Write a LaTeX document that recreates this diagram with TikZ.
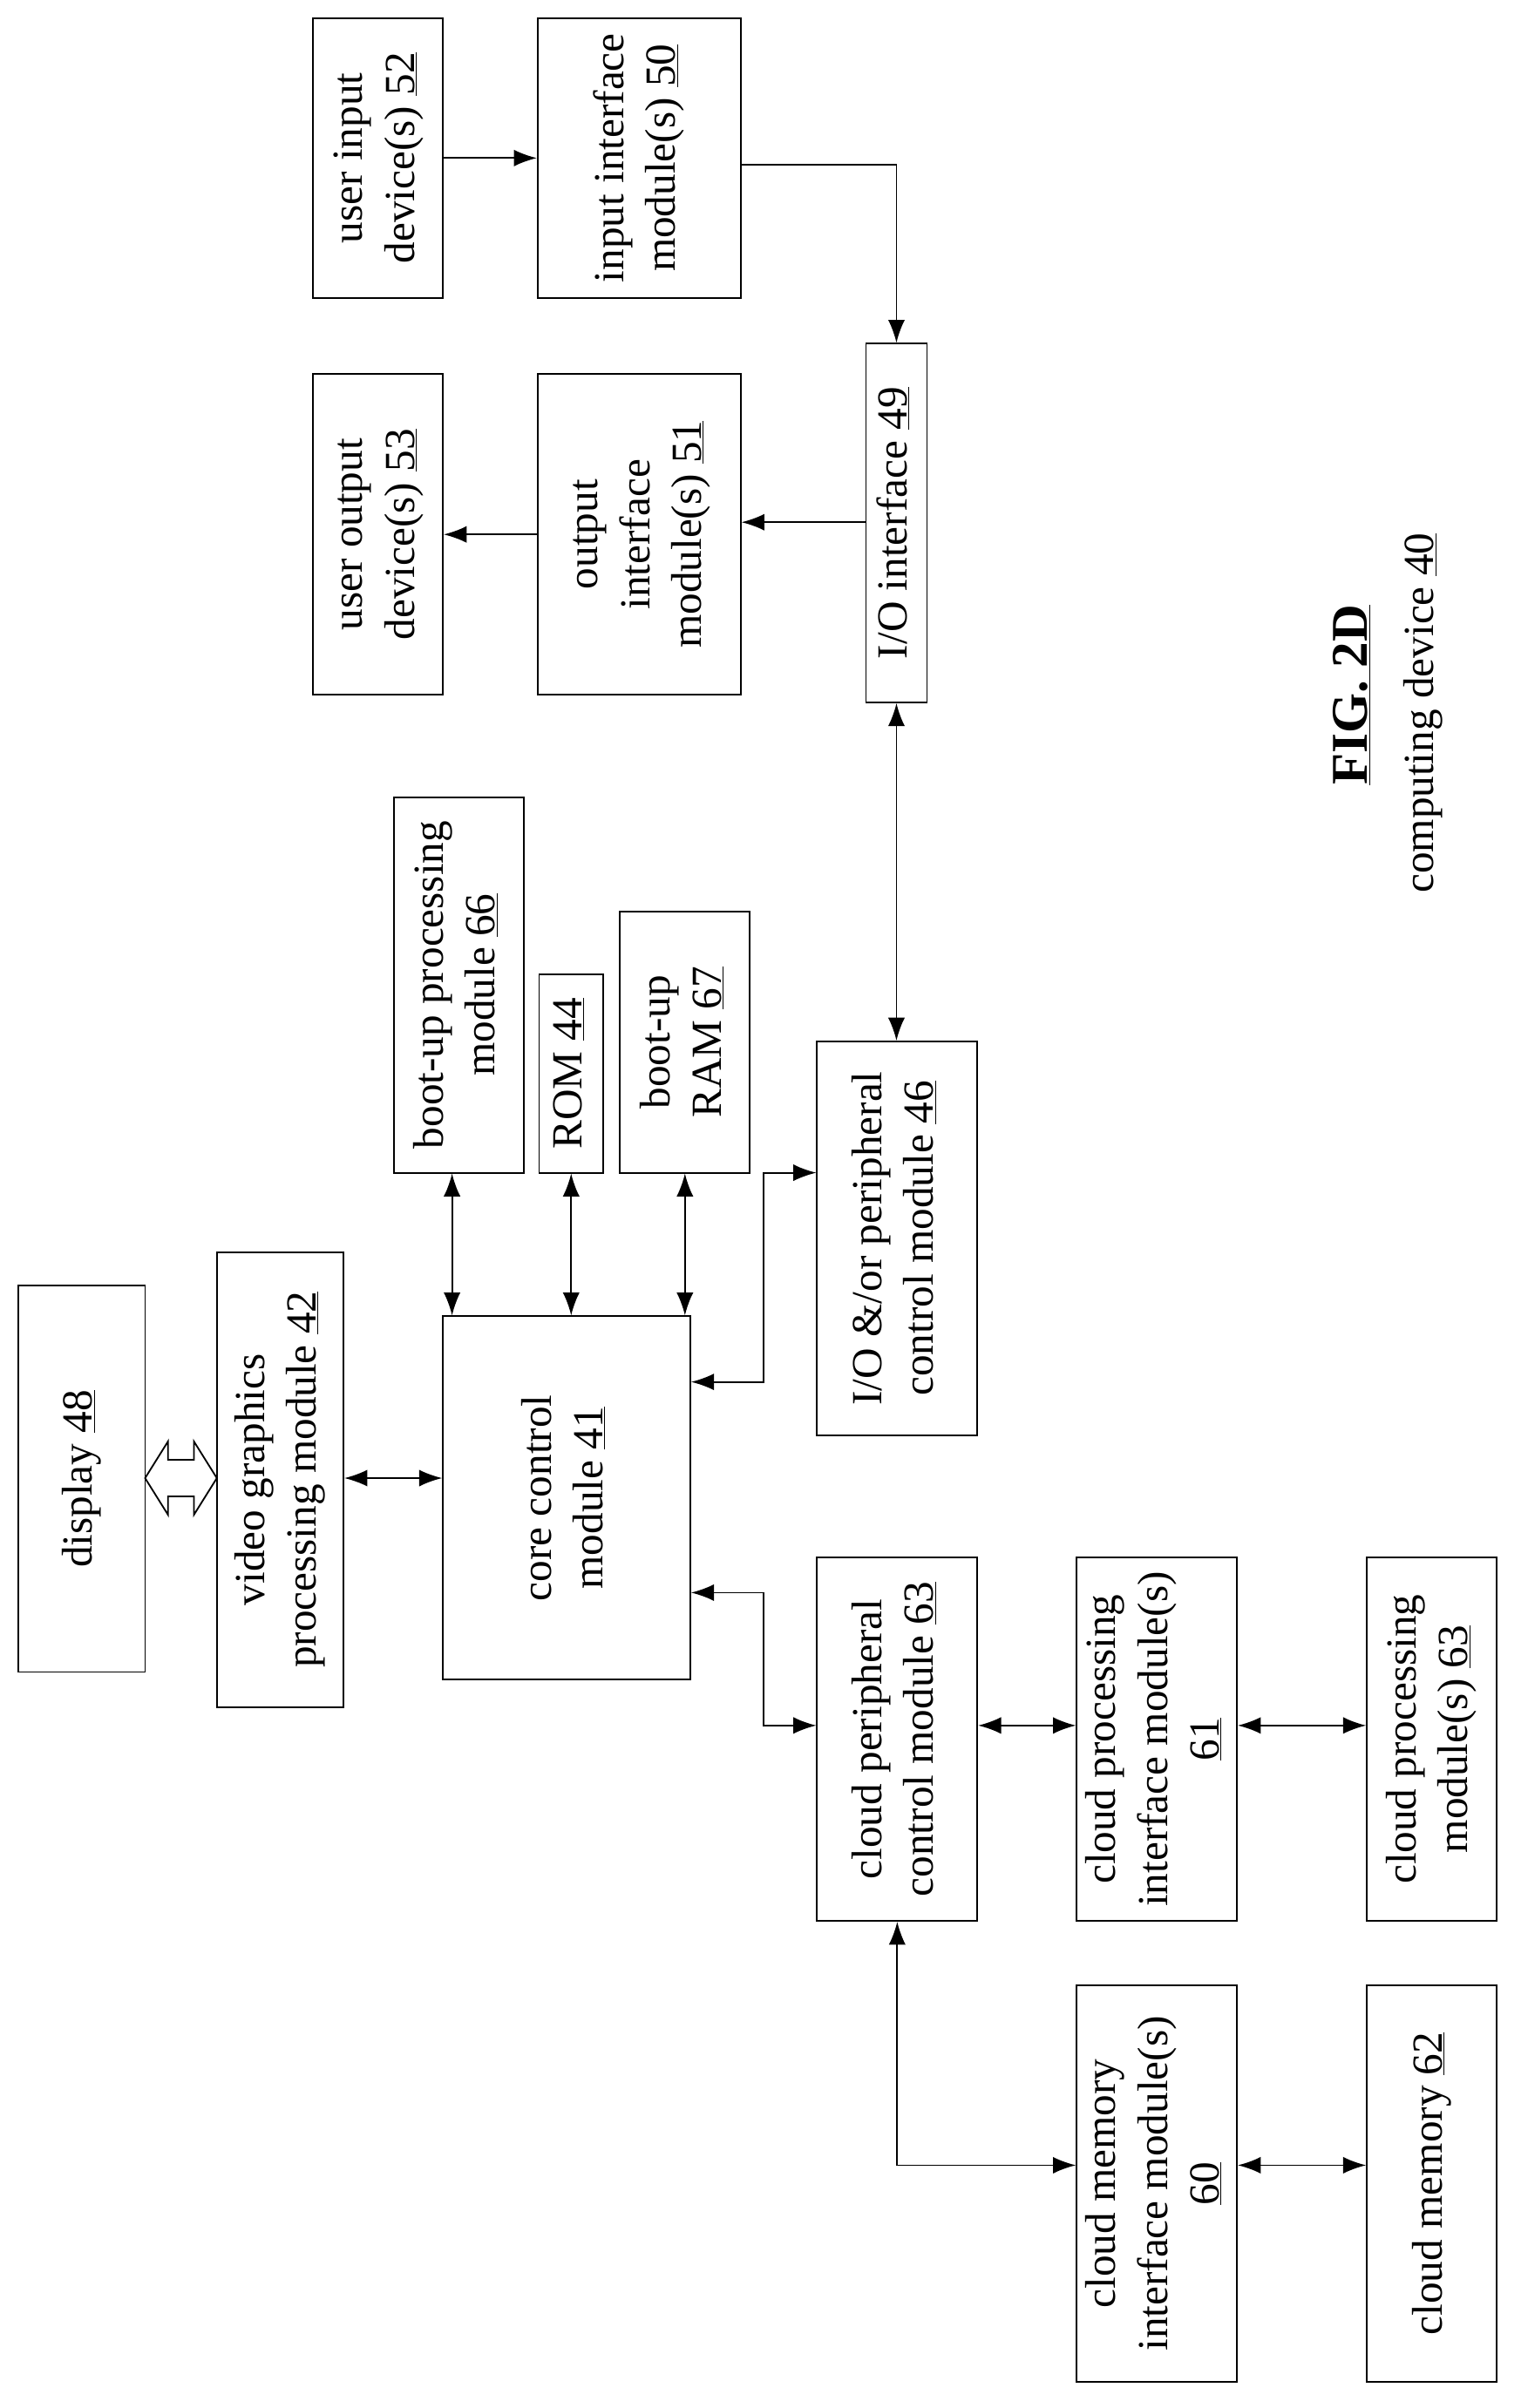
\documentclass[tikz,border=0pt]{standalone}
\usepackage{fontspec}
\setmainfont{Liberation Serif}
\usetikzlibrary{arrows.meta}
\newcommand{\vtxt}[1]{\rotatebox{90}{\begin{tabular}{c}#1\end{tabular}}}
\tikzset{
  box/.style={draw,line width=1.5pt,inner sep=0pt,align=center,
    font=\fontsize{40}{48}\selectfont},
  link/.style={line width=1.5pt,{Latex[length=0.75cm,width=0.55cm]}-{Latex[length=0.75cm,width=0.55cm]}},
  onelink/.style={line width=1.5pt,-{Latex[length=0.75cm,width=0.55cm]}}
}
\begin{document}
\begin{tikzpicture}[x=0.05cm,y=-0.05cm]
\useasboundingbox (0,0) rectangle (1000,1577);
% top row
\node[box,minimum width=4.25cm,minimum height=9.15cm] (ui52) at (247.5,103.5) {\vtxt{user input\\device(s) \underline{52}}};
\node[box,minimum width=6.65cm,minimum height=9.15cm] (ii50) at (418.5,103.5) {\vtxt{input interface\\module(s) \underline{50}}};
\node[box,minimum width=4.25cm,minimum height=10.5cm] (uo53) at (247.5,350) {\vtxt{user output\\device(s) \underline{53}}};
\node[box,minimum width=6.65cm,minimum height=10.5cm] (oi51) at (418.5,350) {\vtxt{output\\interface\\module(s) \underline{51}}};
\node[box,minimum width=2cm,minimum height=11.75cm] (io49) at (587,342.5) {\vtxt{I/O interface \underline{49}}};
% middle
\node[box,minimum width=4.25cm,minimum height=12.3cm] (bp66) at (300.5,645) {\vtxt{boot-up processing\\module \underline{66}}};
\node[box,minimum width=2.1cm,minimum height=6.5cm] (rom44) at (374,703) {\vtxt{ROM \underline{44}}};
\node[box,minimum width=4.25cm,minimum height=8.55cm] (ram67) at (448.5,682.5) {\vtxt{boot-up\\RAM \underline{67}}};
\node[box,minimum width=5.25cm,minimum height=12.9cm] (iop46) at (587.5,811) {\vtxt{I/O \&/or peripheral\\control module \underline{46}}};
\node[box,minimum width=4.15cm,minimum height=12.65cm] (d48) at (53.5,968.5) {\vtxt{display \underline{48}}};
\node[box,minimum width=4.15cm,minimum height=14.9cm] (vg42) at (183.5,969) {\vtxt{video graphics\\processing module \underline{42}}};
\node[box,minimum width=8.1cm,minimum height=11.9cm] (cc41) at (371,981) {\vtxt{core control\\module \underline{41}}};
% cloud
\node[box,minimum width=5.25cm,minimum height=11.9cm] (cp63) at (587.5,1139) {\vtxt{cloud peripheral\\control module \underline{63}}};
\node[box,minimum width=5.25cm,minimum height=11.9cm] (cpi61) at (757.5,1139) {\vtxt{cloud processing\\interface module(s)\\\underline{61}}};
\node[box,minimum width=4.25cm,minimum height=11.9cm] (cpm63) at (937.5,1139) {\vtxt{cloud processing\\module(s) \underline{63}}};
\node[box,minimum width=5.25cm,minimum height=13cm] (cmi60) at (757.5,1430) {\vtxt{cloud memory\\interface module(s)\\\underline{60}}};
\node[box,minimum width=4.25cm,minimum height=13cm] (cm62) at (937.5,1430) {\vtxt{cloud memory \underline{62}}};
% caption
\node[font=\fontsize{48}{56}\selectfont\bfseries] (fig) at (885,455) {\rotatebox{90}{\underline{FIG. 2D}}};
\node[font=\fontsize{40}{48}\selectfont] (cd40) at (932,467) {\rotatebox{90}{computing device \underline{40}}};
% connectors
\draw[onelink] (ui52) -- (ii50);
\draw[onelink] (ii50.east |- 0,108) -| (io49.north);
\draw[onelink] (io49.west |- 0,342) -- (oi51.east |- 0,342);
\draw[onelink] (oi51) -- (uo53);
\draw[link] (io49.south) -- (iop46.north -| io49.south);
\draw[link] (bp66.south -| 296,0) -- (cc41.north -| 296,0);
\draw[link] (rom44.south) -- (cc41.north -| rom44.south);
\draw[link] (ram67.south) -- (cc41.north -| ram67.south);
\draw[link] (cc41.east |- 0,905) -| (500,768) -- (iop46.west |- 0,768);
\draw[link] (cc41.east |- 0,1043) -| (500,1130) -- (cp63.west |- 0,1130);
\draw[link] (vg42.east |- 0,968) -- (cc41.west |- 0,968);
\draw[link] (cp63.east |- 0,1130) -- (cpi61.west |- 0,1130);
\draw[link] (cpi61.east |- 0,1130) -- (cpm63.west |- 0,1130);
\draw[link] (cp63.south) |- (cmi60.west |- 0,1418);
\draw[link] (cmi60.east |- 0,1418) -- (cm62.west |- 0,1418);
% hollow double arrow
\draw[line width=1.5pt] (95,968) -- (110,944) -- (110,956) -- (127,956) -- (127,944) -- (142,968)
  -- (127,992) -- (127,980) -- (110,980) -- (110,992) -- cycle;
\end{tikzpicture}
\end{document}
